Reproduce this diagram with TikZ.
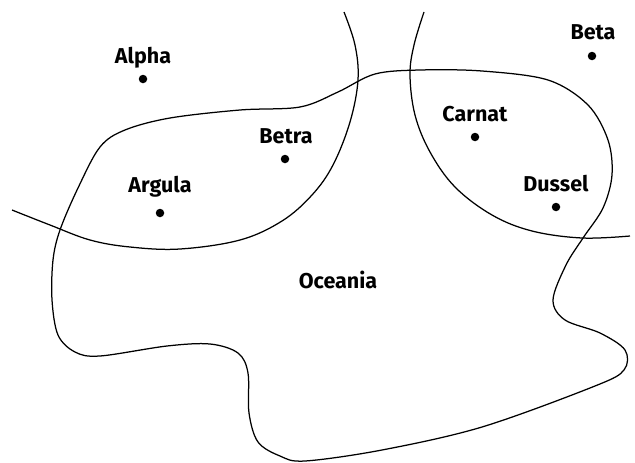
\documentclass[tikz,border=0pt]{standalone}
\usepackage{fontspec}
\setmainfont{Fira Sans}
\begin{document}
\begin{tikzpicture}[x=1pt,y=-1pt,
  boundary/.style={line width=1.25pt, line join=round},
  city/.style={circle, fill=black, inner sep=0pt, minimum size=8.5pt},
  cityname/.style={anchor=base, inner sep=0pt, font=\fontsize{21.5}{24}\selectfont\bfseries}]
\useasboundingbox (0,0) rectangle (635,463);

% Oceania, the large closed region
\draw[boundary] plot[smooth cycle, tension=0.55] coordinates {
  (60,230) (78,188) (100,147) (125,130) (170,118) (240,110) (300,107)
  (338,92) (375,74) (420,70) (482,71) (548,80) (588,105) (608,140)
  (612,175) (603,208) (583,238) (566,265) (553,300) (565,320) (600,333)
  (625,350) (624,370) (595,386) (482,427) (382,450) (305,461) (280,456)
  (258,442) (249,413) (248,373) (238,353) (210,344) (167,346) (100,356)
  (75,352) (58,335) (52,300) (53,260)};

% Western boundary, coming in from the top and leaving at the left edge
\draw[boundary] plot[smooth, tension=0.6] coordinates {
  (344,12) (355,45) (358,80) (350,122) (333,165) (312,195) (282,221)
  (240,240) (180,249) (130,247) (90,240) (50,225) (12,210)};

% Eastern boundary, coming in from the top and leaving at the right edge
\draw[boundary] plot[smooth, tension=0.6] coordinates {
  (424,12) (414,45) (410,75) (415,115) (430,152) (455,187) (492,215)
  (532,231) (582,238) (630,236)};

% Places
\node[city] (alpha)  at (143,79)  {};
\node[city] (betra)  at (285,159) {};
\node[city] (argula) at (160,213) {};
\node[city] (carnat) at (475,137) {};
\node[city] (dussel) at (556,207) {};
\node[city] (beta)   at (592,56)  {};

\node[cityname] (alphaname)  at (143,63)  {Alpha};
\node[cityname] (betraname)  at (286,143) {Betra};
\node[cityname] (argulaname) at (160,192) {Argula};
\node[cityname] (carnatname) at (475,121) {Carnat};
\node[cityname] (dusselname) at (556,191) {Dussel};
\node[cityname] (betaname)   at (593,39)  {Beta};
\node[cityname] (oceania)    at (338,288) {Oceania};
\end{tikzpicture}
\end{document}
